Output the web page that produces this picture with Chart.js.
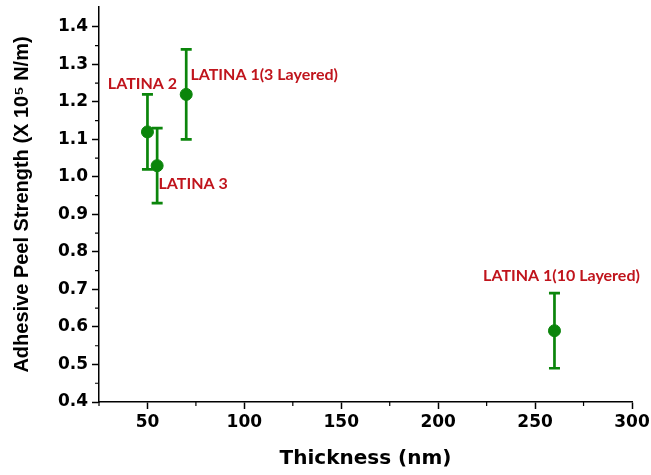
<!DOCTYPE html>
<html>
<head>
<meta charset="utf-8">
<script src="https://cdn.jsdelivr.net/npm/chart.js@4/dist/chart.umd.min.js"></script>
<style>
  html, body { margin: 0; padding: 0; background: #fff; }
  #wrap { width: 651px; height: 475px; }
</style>
</head>
<body>
<div id="wrap"><canvas id="peel"></canvas></div>
<script>
const sampleNames = ["LATINA 2", "LATINA 3", "LATINA 1(3 Layered)", "LATINA 1(10 Layered)"];
const thickness = [50, 55, 70, 260];
const peelStrength = [1.12, 1.03, 1.22, 0.59];
const peelError = [0.10, 0.10, 0.12, 0.10];
const xTicks = [50, 100, 150, 200, 250, 300];
const yTicks = [0.4, 0.5, 0.6, 0.7, 0.8, 0.9, 1.0, 1.1, 1.2, 1.3, 1.4];

const green = "#0b850b";
const red = "#c0141c";

// label offsets relative to the point (px)
const labelPos = [
  { dx: -5, dy: -48 },
  { dx: 36, dy: 18 },
  { dx: 78, dy: -20 },
  { dx: 7, dy: -55 }
];

const points = thickness.map((x, i) => ({ x: x, y: peelStrength[i] }));

const errorBars = {
  id: "errorBars",
  beforeDatasetsDraw(chart) {
    const { ctx, scales } = chart;
    ctx.save();
    ctx.strokeStyle = green;
    ctx.lineWidth = 2.7;
    points.forEach((p, i) => {
      const px = scales.x.getPixelForValue(p.x);
      const top = scales.y.getPixelForValue(p.y + peelError[i]);
      const bot = scales.y.getPixelForValue(p.y - peelError[i]);
      ctx.beginPath();
      ctx.moveTo(px, top);
      ctx.lineTo(px, bot);
      ctx.moveTo(px - 5.5, top);
      ctx.lineTo(px + 5.5, top);
      ctx.moveTo(px - 5.5, bot);
      ctx.lineTo(px + 5.5, bot);
      ctx.stroke();
    });
    ctx.restore();
  },
  afterDatasetsDraw(chart) {
    const { ctx, scales } = chart;
    ctx.save();
    ctx.fillStyle = red;
    ctx.font = "bold 16px Lato";
    ctx.textAlign = "center";
    ctx.textBaseline = "middle";
    points.forEach((p, i) => {
      const px = scales.x.getPixelForValue(p.x);
      const py = scales.y.getPixelForValue(p.y);
      ctx.fillText(sampleNames[i], px + labelPos[i].dx, py + labelPos[i].dy);
    });
    ctx.restore();
  }
};

// minor ticks between major ones
const minorTicks = {
  id: "minorTicks",
  afterDraw(chart) {
    const { ctx, scales } = chart;
    const xs = scales.x, ys = scales.y;
    ctx.save();
    ctx.strokeStyle = "#000";
    ctx.lineWidth = 1.2;
    ctx.beginPath();
    for (let v = 25; v <= 300; v += 50) {
      const px = xs.getPixelForValue(v);
      ctx.moveTo(px, xs.top);
      ctx.lineTo(px, xs.top + 4);
    }
    for (let v = 0.45; v < 1.45; v += 0.1) {
      const py = ys.getPixelForValue(v);
      ctx.moveTo(ys.right, py);
      ctx.lineTo(ys.right - 4, py);
    }
    ctx.stroke();
    ctx.restore();
  }
};

const tickFont = { family: "DejaVu Sans", size: 17, weight: "bold" };

new Chart(document.getElementById("peel"), {
  type: "scatter",
  data: {
    datasets: [{
      data: points,
      backgroundColor: green,
      borderColor: green,
      pointRadius: 6,
      pointHoverRadius: 6
    }]
  },
  plugins: [errorBars, minorTicks],
  options: {
    responsive: true,
    maintainAspectRatio: false,
    animation: false,
    layout: { padding: { top: 5, right: 19, left: 0, bottom: 0 } },
    plugins: { legend: { display: false }, tooltip: { enabled: false } },
    scales: {
      x: {
        min: 25,
        max: 300,
        afterBuildTicks: (s) => { s.ticks = xTicks.map((v) => ({ value: v })); },
        afterFit: (s) => { s.height = 73; s.paddingLeft = 0; s.paddingRight = 0; },
        border: { color: "#000", width: 1.5 },
        grid: { drawOnChartArea: false, tickLength: 7, tickColor: "#000", tickWidth: 1.5 },
        ticks: { color: "#000", font: tickFont, padding: 3 },
        title: { display: true, text: "Thickness (nm)", color: "#000", font: { family: "DejaVu Sans", size: 20, weight: "bold" }, padding: { top: 6 } }
      },
      y: {
        min: 0.4,
        max: 1.453,
        afterBuildTicks: (s) => { s.ticks = yTicks.map((v) => ({ value: v })); },
        afterFit: (s) => { s.width = 99; s.paddingTop = 0; s.paddingBottom = 0; },
        border: { color: "#000", width: 1.5 },
        grid: { drawOnChartArea: false, tickLength: 7, tickColor: "#000", tickWidth: 1.5 },
        ticks: { color: "#000", font: tickFont, padding: 4, callback: (v) => Number(v).toFixed(1) },
        title: { display: true, text: "Adhesive Peel Strength (X 10\u2075 N/m)", color: "#000", font: { family: "Liberation Sans", size: 20, weight: "bold" }, padding: { top: 10, bottom: 4 } }
      }
    }
  }
});
</script>
</body>
</html>
